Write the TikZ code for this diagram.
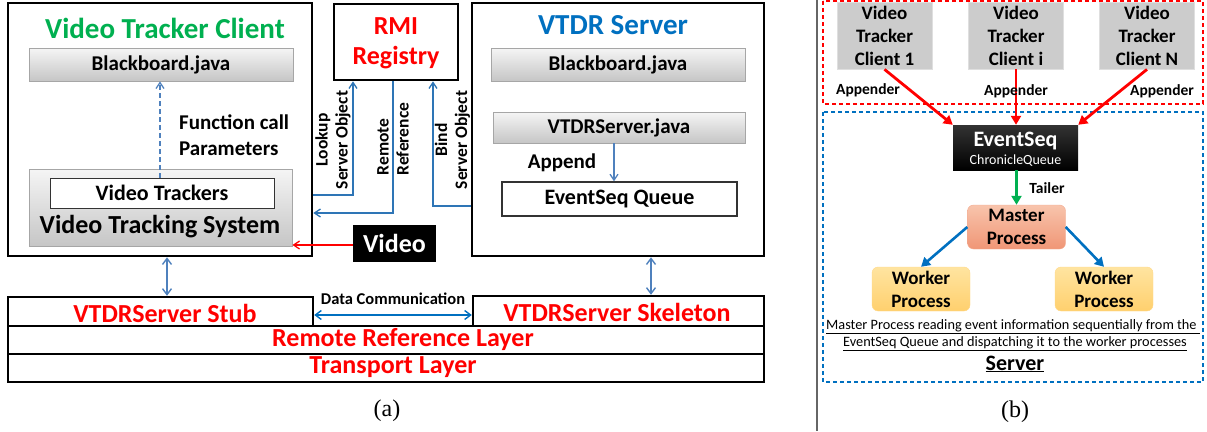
\documentclass[tikz,border=0pt]{standalone}
\usepackage{fontspec}
\setmainfont{Carlito}
\newfontfamily\capfont{Liberation Serif}
\usetikzlibrary{arrows.meta,calc}
\newcommand\fsz[2]{\fontsize{#1}{#2}\selectfont}
\definecolor{tgreen}{RGB}{0,176,80}
\definecolor{tblue}{RGB}{0,112,192}
\definecolor{tred}{RGB}{255,0,0}
\definecolor{steel}{RGB}{79,129,189}
\definecolor{lnblue}{RGB}{46,117,182}
\definecolor{salmonT}{RGB}{248,196,172}
\definecolor{salmonB}{RGB}{240,150,118}
\definecolor{workT}{RGB}{255,228,160}
\definecolor{workB}{RGB}{255,208,110}
\tikzset{
  thickbox/.style={draw=black, line width=2.6pt, fill=white, inner sep=0pt},
  graybox/.style={draw=gray!70, line width=0.8pt, top color=gray!8, bottom color=gray!45, inner sep=0pt, font=\bfseries},
  whitebox/.style={draw=black!80, line width=1pt, fill=white, inner sep=0pt, font=\bfseries},
  blkbox/.style={fill=black, text=white, inner sep=0pt, font=\bfseries},
  layerbox/.style={draw=black, line width=2.4pt, inner sep=0pt},
  redlbl/.style={text=tred, font=\bfseries\fsz{26}{30}},
  rotlbl/.style={rotate=90, font=\bfseries\fsz{17.5}{20}, inner sep=0pt},
  bconn/.style={draw=lnblue, line width=1.6pt},
  barb/.style={-{Straight Barb[length=6pt,width=8pt,line width=1.3pt]}},
  dbarb/.style={{Straight Barb[length=6pt,width=9pt,line width=1.4pt]}-{Straight Barb[length=6pt,width=9pt,line width=1.4pt]}},
  clientbox/.style={fill=gray!40, draw=gray!25, line width=0.8pt, inner sep=0pt, align=center, font=\bfseries\fsz{19}{23}, minimum width=95pt, minimum height=67pt},
  procbox/.style={rounded corners=6pt, inner sep=0pt, align=center, font=\bfseries\fsz{19}{23}, minimum width=98pt, minimum height=44pt},
  fatred/.style={draw=tred, line width=2.8pt, -{Triangle[length=9pt,width=10pt]}},
  fatblue/.style={draw=tblue, line width=2.6pt, -{Triangle[length=9pt,width=10pt]}},
  fatgreen/.style={draw=tgreen, line width=2.8pt, -{Triangle[length=9pt,width=10pt]}},
  smalllbl/.style={font=\bfseries\fsz{15.5}{18}, inner sep=0pt},
}
\begin{document}
\begin{tikzpicture}[x=1pt,y=-1pt]
\useasboundingbox (0,0) rectangle (1207,431);
% ---------------- (a) ----------------
\node[thickbox, minimum width=304pt, minimum height=253pt] (vtc) at (160,129.5) {};
\node[text=tgreen, font=\bfseries\fsz{29}{32}] (vtct) at (165,28) {Video Tracker Client};
\node[graybox, minimum width=264pt, minimum height=33pt, font=\bfseries\fsz{21}{24}] (bb1) at (161,64.5) {Blackboard.java};
\node[graybox, minimum width=263pt, minimum height=77pt] (vts) at (160.5,207.5) {};
\node[font=\bfseries\fsz{26}{30}] (vtst) at (160,227) {Video Tracking System};
\node[whitebox, minimum width=224pt, minimum height=30pt, font=\bfseries\fsz{22}{25}] (vt) at (162,193) {Video Trackers};
\draw[draw=steel, line width=1.6pt, dash pattern=on 5pt off 3pt, barb] (vt.north -| 160,0) -- (bb1.south -| 160,0);
\node[anchor=west, align=left, font=\bfseries\fsz{21}{26}, inner sep=0pt] (fc) at (179,135) {Function call\\Parameters};

\node[thickbox, minimum width=124pt, minimum height=76pt] (rmi) at (396,42) {};
\node[redlbl, align=center, inner sep=0pt] (rmit) at (396,43) {RMI\\[0pt]Registry};

\node[thickbox, minimum width=292pt, minimum height=253pt] (srv) at (618,129.5) {};
\node[text=tblue, font=\bfseries\fsz{29}{32}] (srvt) at (613,25) {VTDR Server};
\node[graybox, minimum width=254pt, minimum height=33pt, font=\bfseries\fsz{21}{24}] (bb2) at (618,64.5) {Blackboard.java};
\node[graybox, minimum width=252pt, minimum height=31pt, font=\bfseries\fsz{21}{24}] (vj) at (619,127.5) {VTDRServer.java};
\node[whitebox, line width=1.3pt, minimum width=235pt, minimum height=34pt, font=\bfseries\fsz{22}{25}] (eq) at (619.5,199) {EventSeq Queue};
\draw[draw=steel, line width=1.4pt, barb] (vj.south -| 614,0) -- (eq.north -| 614,0);
\node[font=\bfseries\fsz{21}{24}, inner sep=0pt] (app) at (562,163) {Append};

\node[blkbox, minimum width=83pt, minimum height=37pt, font=\bfseries\fsz{26}{30}] (vid) at (394.5,243.5) {Video};
\draw[draw=tred, line width=1.4pt, barb] (vid.west |- 0,245) -- (vts.east |- 0,245);

% RMI connectors
\coordinate (lk) at (353,195);
\coordinate (rr) at (393,213);
\coordinate (bd) at (433,206);
\draw[bconn, barb] (vtc.east |- lk) -- (lk) -- (lk |- rmi.south);
\draw[bconn, barb] (rr |- rmi.south) -- (rr) -- (vtc.east |- rr);
\draw[bconn, barb] (srv.west |- bd) -- (bd) -- (bd |- rmi.south);
\node[rotlbl, align=center] (lkl) at (333,140) {Lookup\\Server Object};
\node[rotlbl, align=left] (rrl) at (393,139) {Remote\\Reference};
\node[rotlbl, align=center] (bdl) at (452.5,140) {Bind\\Server Object};

% layers
\node[layerbox, minimum width=305pt, minimum height=29pt] (stub) at (160.5,311.5) {};
\node[layerbox, minimum width=291pt, minimum height=30pt] (skel) at (618.5,311) {};
\node[layerbox, minimum width=756pt, minimum height=28pt] (rrlay) at (386,340) {};
\node[layerbox, minimum width=756pt, minimum height=28pt] (tlay) at (386,368) {};
\node[redlbl] (stubt) at (165,313) {VTDRServer Stub};
\node[redlbl] (skelt) at (617,312) {VTDRServer Skeleton};
\node[redlbl] (rrlt) at (403,340) {Remote Reference Layer};
\node[redlbl] (tlt) at (393,367) {Transport Layer};
\draw[draw=tblue, line width=1.4pt, dbarb] (stub.east |- 0,315) -- (skel.west |- 0,315);
\node[font=\bfseries\fsz{16.5}{19}, inner sep=0pt] (dc) at (393,299) {Data Communication};
\draw[draw=steel, line width=1.5pt, dbarb] (vtc.south -| 167,0) -- (stub.north -| 167,0);
\draw[draw=steel, line width=1.5pt, dbarb] (srv.south -| 651,0) -- (skel.north -| 651,0);
\node[font=\capfont\fsz{24}{26}] (capa) at (387,411) {(a)};

% divider
\draw[draw=black!60, line width=1.2pt] (817,0) -- (817,431);

% ---------------- (b) ----------------
\draw[draw=tred, line width=1.3pt, dash pattern=on 4pt off 3pt] (823,1) rectangle (1203,104);
\draw[draw=tblue, line width=1.3pt, dash pattern=on 4pt off 3pt] (823,112) rectangle (1203,382);
\node[clientbox] (c1) at (884.5,35.5) {Video\\Tracker\\Client 1};
\node[clientbox] (ci) at (1016,35.5) {Video\\Tracker\\Client i};
\node[clientbox] (cn) at (1147,35.5) {Video\\Tracker\\Client N};
\node[blkbox, top color=black!80, bottom color=black, minimum width=125pt, minimum height=45pt] (es) at (1015.5,147.5) {};
\node[text=white, font=\bfseries\fsz{22}{24}, inner sep=0pt] (est) at (1015.5,141) {EventSeq};
\node[text=white, font=\fsz{14}{16}, inner sep=0pt] (esq) at (1015.5,161) {ChronicleQueue};
\draw[fatred] (c1.south) -- (es.north west);
\draw[fatred] (ci.south) -- (es.north -| ci.south);
\draw[fatred] (cn.south) -- (es.north east);
\node[smalllbl] (ap1) at (868,90) {Appender};
\node[smalllbl] (ap2) at (1016,91) {Appender};
\node[smalllbl] (ap3) at (1162,91) {Appender};
\node[procbox, top color=salmonT, bottom color=salmonB, draw=salmonB!80] (mp) at (1016.5,227) {Master\\Process};
\draw[fatgreen] (es.south -| mp.north) -- (mp.north);
\node[smalllbl] (tl) at (1047,188) {Tailer};
\node[procbox, top color=workT, bottom color=workB, draw=workB!80] (w1) at (921,289) {Worker\\Process};
\node[procbox, top color=workT, bottom color=workB, draw=workB!80] (w2) at (1104,289) {Worker\\Process};
\draw[fatblue] (mp.west) -- (w1.north);
\draw[fatblue] (mp.east) -- (w2.north);
\node[font=\fsz{14.3}{16}, inner sep=0pt] (d1) at (1013,327) {\underline{Master Process reading event information sequentially from the }};
\node[font=\fsz{14.3}{16}, inner sep=0pt] (d2) at (1015,344) {\underline{EventSeq Queue and dispatching it to the worker processes}};
\node[font=\bfseries\fsz{22}{24}, inner sep=0pt] (srvb) at (1015,364) {\underline{Server}};
\node[font=\capfont\fsz{24}{26}] (capb) at (1015,412) {(b)};
\end{tikzpicture}
\end{document}
